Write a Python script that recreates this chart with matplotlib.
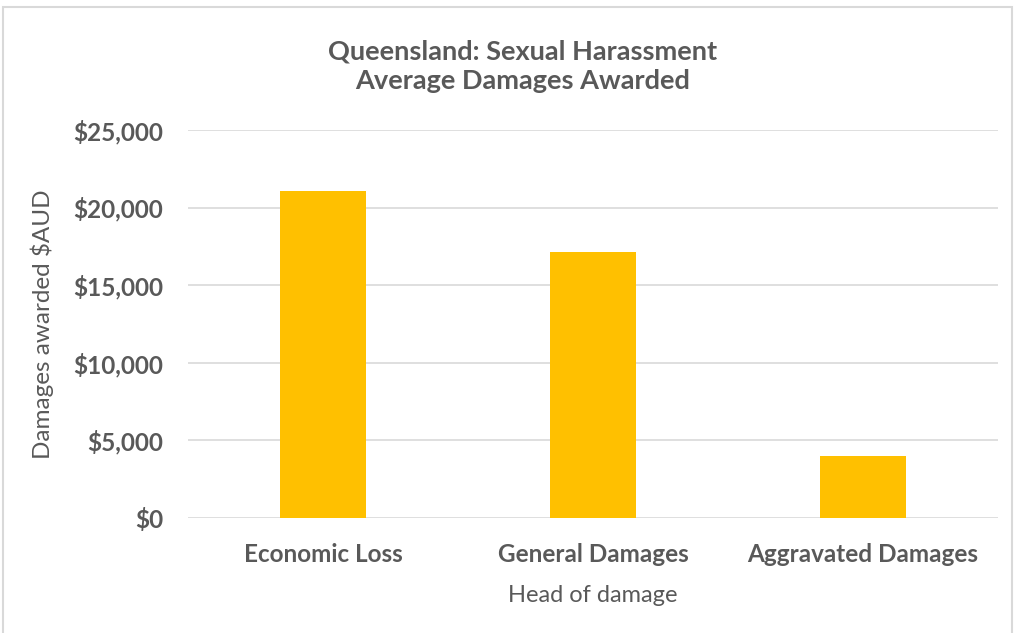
import matplotlib.pyplot as plt
from matplotlib.patches import Rectangle
from matplotlib.ticker import FuncFormatter

categories = ["Economic Loss", "General Damages", "Aggravated Damages"]
damages = [21070, 17120, 3990]
y_ticks = [0, 5000, 10000, 15000, 20000, 25000]

plt.rcParams['font.family'] = ['Lato', 'DejaVu Sans']
text_col = '#595959'

fig = plt.figure(figsize=(10.15, 6.33), dpi=100)
ax = fig.add_axes([0.1852, 0.1817, 0.7981, 0.6129])

ax.bar(categories, damages, width=0.32, color='#FFC000', zorder=3)
ax.set_xlim(-0.5, 2.5)
ax.set_ylim(0, 25000)
ax.set_yticks(y_ticks)
ax.yaxis.set_major_formatter(FuncFormatter(lambda v, p: '${:,.0f}'.format(v)))
ax.grid(axis='y', color='#d9d9d9', linewidth=1.2, zorder=0)
for s in ax.spines.values():
    s.set_visible(False)
ax.tick_params(length=0, colors=text_col, labelsize=17.5)
for lab in ax.get_xticklabels() + ax.get_yticklabels():
    lab.set_fontweight('bold')
ax.tick_params(axis='y', pad=18)
ax.tick_params(axis='x', pad=18)

ax.set_ylabel("Damages awarded $AUD", fontsize=17.5, color=text_col, labelpad=14)
ax.set_xlabel("Head of damage", fontsize=17, color=text_col, labelpad=14)

fig.text(0.5145, 0.895, "Queensland: Sexual Harassment\nAverage Damages Awarded",
         ha='center', va='center', fontsize=19.5, fontweight='bold', color=text_col,
         linespacing=1.3)

fig.patches.append(Rectangle((0.003, -0.01), 0.994, 0.999, transform=fig.transFigure,
                             fill=False, edgecolor='#d9d9d9', linewidth=1.5))

fig.savefig('out.png', dpi=100)
